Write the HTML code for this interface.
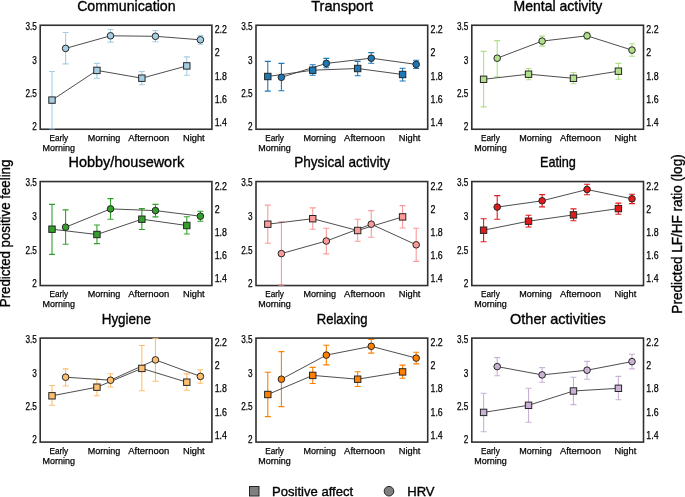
<!DOCTYPE html><html><head><meta charset="utf-8"><style>html,body{margin:0;padding:0;background:#fff;}svg{display:block;will-change:transform;}text{font-family:"Liberation Sans", sans-serif;fill:#000;}.b{stroke:#000;stroke-width:0.25px;}.t{stroke:#000;stroke-width:0.35px;}</style></head><body>
<svg width="685" height="497" viewBox="0 0 685 497">
<rect x="0" y="0" width="685" height="497" fill="#fff"/>
<text x="126.35" y="10.8" font-size="15" text-anchor="middle" textLength="98.4" lengthAdjust="spacingAndGlyphs" class="t">Communication</text>
<clipPath id="c0"><rect x="40.2" y="25.25" width="171.7" height="104.0"/></clipPath>
<g clip-path="url(#c0)">
<path d="M52.00 71.50V129.00M49.00 71.50H55.00M49.00 129.00H55.00" stroke="#a6cee3" stroke-width="1.1" fill="none"/>
<path d="M96.93 63.40V78.20M93.93 63.40H99.93M93.93 78.20H99.93" stroke="#a6cee3" stroke-width="1.1" fill="none"/>
<path d="M141.86 71.50V84.80M138.86 71.50H144.86M138.86 84.80H144.86" stroke="#a6cee3" stroke-width="1.1" fill="none"/>
<path d="M186.79 56.90V75.20M183.79 56.90H189.79M183.79 75.20H189.79" stroke="#a6cee3" stroke-width="1.1" fill="none"/>
<path d="M65.60 32.50V63.90M62.60 32.50H68.60M62.60 63.90H68.60" stroke="#a6cee3" stroke-width="1.1" fill="none"/>
<path d="M110.53 29.50V42.10M107.53 29.50H113.53M107.53 42.10H113.53" stroke="#a6cee3" stroke-width="1.1" fill="none"/>
<path d="M155.46 30.50V41.80M152.46 30.50H158.46M152.46 41.80H158.46" stroke="#a6cee3" stroke-width="1.1" fill="none"/>
<path d="M200.39 35.50V44.30M197.39 35.50H203.39M197.39 44.30H203.39" stroke="#a6cee3" stroke-width="1.1" fill="none"/>
<polyline points="52.00,100.10 96.93,70.40 141.86,78.20 186.79,65.90" stroke="#3a3a3a" stroke-width="0.9" fill="none"/>
<polyline points="65.60,48.40 110.53,35.80 155.46,36.30 200.39,39.80" stroke="#3a3a3a" stroke-width="0.9" fill="none"/>
<rect x="48.80" y="96.90" width="6.4" height="6.4" fill="#a6cee3" stroke="#262626" stroke-width="1"/>
<rect x="93.73" y="67.20" width="6.4" height="6.4" fill="#a6cee3" stroke="#262626" stroke-width="1"/>
<rect x="138.66" y="75.00" width="6.4" height="6.4" fill="#a6cee3" stroke="#262626" stroke-width="1"/>
<rect x="183.59" y="62.70" width="6.4" height="6.4" fill="#a6cee3" stroke="#262626" stroke-width="1"/>
<circle cx="65.60" cy="48.40" r="3.3" fill="#a6cee3" stroke="#262626" stroke-width="1"/>
<circle cx="110.53" cy="35.80" r="3.3" fill="#a6cee3" stroke="#262626" stroke-width="1"/>
<circle cx="155.46" cy="36.30" r="3.3" fill="#a6cee3" stroke="#262626" stroke-width="1"/>
<circle cx="200.39" cy="39.80" r="3.3" fill="#a6cee3" stroke="#262626" stroke-width="1"/>
</g>
<rect x="40.2" y="25.25" width="171.7" height="104.0" fill="none" stroke="#303030" stroke-width="1.6"/>
<path d="M49.00 128.85H55.00" stroke="#a6cee3" stroke-width="1.1" fill="none" opacity="0.85"/>
<text x="36.80" y="30.05" font-size="10.2" text-anchor="end" textLength="11.42" lengthAdjust="spacingAndGlyphs" class="b">3.5</text>
<text x="36.80" y="63.65" font-size="10.2" text-anchor="end" textLength="4.58" lengthAdjust="spacingAndGlyphs" class="b">3</text>
<text x="36.80" y="97.35" font-size="10.2" text-anchor="end" textLength="11.42" lengthAdjust="spacingAndGlyphs" class="b">2.5</text>
<text x="36.80" y="130.35" font-size="10.2" text-anchor="end" textLength="4.58" lengthAdjust="spacingAndGlyphs" class="b">2</text>
<text x="214.70" y="33.25" font-size="10.3" textLength="12.24" lengthAdjust="spacingAndGlyphs" class="b">2.2</text>
<text x="214.70" y="56.25" font-size="10.3" textLength="4.91" lengthAdjust="spacingAndGlyphs" class="b">2</text>
<text x="214.70" y="79.50" font-size="10.3" textLength="12.24" lengthAdjust="spacingAndGlyphs" class="b">1.8</text>
<text x="214.70" y="103.05" font-size="10.3" textLength="12.24" lengthAdjust="spacingAndGlyphs" class="b">1.6</text>
<text x="214.70" y="126.05" font-size="10.3" textLength="12.24" lengthAdjust="spacingAndGlyphs" class="b">1.4</text>
<text x="58.80" y="141.10" font-size="9.8" text-anchor="middle" textLength="18.7" lengthAdjust="spacingAndGlyphs" class="b">Early</text>
<text x="58.80" y="150.80" font-size="9.8" text-anchor="middle" textLength="32.5" lengthAdjust="spacingAndGlyphs" class="b">Morning</text>
<text x="104.00" y="141.10" font-size="9.8" text-anchor="middle" textLength="32.6" lengthAdjust="spacingAndGlyphs" class="b">Morning</text>
<text x="148.80" y="141.10" font-size="9.8" text-anchor="middle" textLength="41" lengthAdjust="spacingAndGlyphs" class="b">Afternoon</text>
<text x="193.80" y="141.10" font-size="9.8" text-anchor="middle" textLength="21.7" lengthAdjust="spacingAndGlyphs" class="b">Night</text>
<text x="342.15" y="10.8" font-size="15" text-anchor="middle" textLength="61.8" lengthAdjust="spacingAndGlyphs" class="t">Transport</text>
<clipPath id="c1"><rect x="256.0" y="25.25" width="171.7" height="104.0"/></clipPath>
<g clip-path="url(#c1)">
<path d="M267.80 61.40V91.10M264.80 61.40H270.80M264.80 91.10H270.80" stroke="#1f78b4" stroke-width="1.1" fill="none"/>
<path d="M312.73 64.70V75.30M309.73 64.70H315.73M309.73 75.30H315.73" stroke="#1f78b4" stroke-width="1.1" fill="none"/>
<path d="M357.66 61.40V75.80M354.66 61.40H360.66M354.66 75.80H360.66" stroke="#1f78b4" stroke-width="1.1" fill="none"/>
<path d="M402.59 68.20V81.00M399.59 68.20H405.59M399.59 81.00H405.59" stroke="#1f78b4" stroke-width="1.1" fill="none"/>
<path d="M281.40 63.40V90.80M278.40 63.40H284.40M278.40 90.80H284.40" stroke="#1f78b4" stroke-width="1.1" fill="none"/>
<path d="M326.33 58.40V67.70M323.33 58.40H329.33M323.33 67.70H329.33" stroke="#1f78b4" stroke-width="1.1" fill="none"/>
<path d="M371.26 52.60V63.20M368.26 52.60H374.26M368.26 63.20H374.26" stroke="#1f78b4" stroke-width="1.1" fill="none"/>
<path d="M416.19 60.20V68.50M413.19 60.20H419.19M413.19 68.50H419.19" stroke="#1f78b4" stroke-width="1.1" fill="none"/>
<polyline points="267.80,76.50 312.73,70.20 357.66,68.50 402.59,74.50" stroke="#3a3a3a" stroke-width="0.9" fill="none"/>
<polyline points="281.40,77.30 326.33,63.40 371.26,58.20 416.19,64.40" stroke="#3a3a3a" stroke-width="0.9" fill="none"/>
<rect x="264.60" y="73.30" width="6.4" height="6.4" fill="#1f78b4" stroke="#262626" stroke-width="1"/>
<rect x="309.53" y="67.00" width="6.4" height="6.4" fill="#1f78b4" stroke="#262626" stroke-width="1"/>
<rect x="354.46" y="65.30" width="6.4" height="6.4" fill="#1f78b4" stroke="#262626" stroke-width="1"/>
<rect x="399.39" y="71.30" width="6.4" height="6.4" fill="#1f78b4" stroke="#262626" stroke-width="1"/>
<circle cx="281.40" cy="77.30" r="3.3" fill="#1f78b4" stroke="#262626" stroke-width="1"/>
<circle cx="326.33" cy="63.40" r="3.3" fill="#1f78b4" stroke="#262626" stroke-width="1"/>
<circle cx="371.26" cy="58.20" r="3.3" fill="#1f78b4" stroke="#262626" stroke-width="1"/>
<circle cx="416.19" cy="64.40" r="3.3" fill="#1f78b4" stroke="#262626" stroke-width="1"/>
</g>
<rect x="256.0" y="25.25" width="171.7" height="104.0" fill="none" stroke="#303030" stroke-width="1.6"/>
<text x="252.60" y="30.05" font-size="10.2" text-anchor="end" textLength="11.42" lengthAdjust="spacingAndGlyphs" class="b">3.5</text>
<text x="252.60" y="63.65" font-size="10.2" text-anchor="end" textLength="4.58" lengthAdjust="spacingAndGlyphs" class="b">3</text>
<text x="252.60" y="97.35" font-size="10.2" text-anchor="end" textLength="11.42" lengthAdjust="spacingAndGlyphs" class="b">2.5</text>
<text x="252.60" y="130.35" font-size="10.2" text-anchor="end" textLength="4.58" lengthAdjust="spacingAndGlyphs" class="b">2</text>
<text x="430.50" y="33.25" font-size="10.3" textLength="12.24" lengthAdjust="spacingAndGlyphs" class="b">2.2</text>
<text x="430.50" y="56.25" font-size="10.3" textLength="4.91" lengthAdjust="spacingAndGlyphs" class="b">2</text>
<text x="430.50" y="79.50" font-size="10.3" textLength="12.24" lengthAdjust="spacingAndGlyphs" class="b">1.8</text>
<text x="430.50" y="103.05" font-size="10.3" textLength="12.24" lengthAdjust="spacingAndGlyphs" class="b">1.6</text>
<text x="430.50" y="126.05" font-size="10.3" textLength="12.24" lengthAdjust="spacingAndGlyphs" class="b">1.4</text>
<text x="274.60" y="141.10" font-size="9.8" text-anchor="middle" textLength="18.7" lengthAdjust="spacingAndGlyphs" class="b">Early</text>
<text x="274.60" y="150.80" font-size="9.8" text-anchor="middle" textLength="32.5" lengthAdjust="spacingAndGlyphs" class="b">Morning</text>
<text x="319.80" y="141.10" font-size="9.8" text-anchor="middle" textLength="32.6" lengthAdjust="spacingAndGlyphs" class="b">Morning</text>
<text x="364.60" y="141.10" font-size="9.8" text-anchor="middle" textLength="41" lengthAdjust="spacingAndGlyphs" class="b">Afternoon</text>
<text x="409.60" y="141.10" font-size="9.8" text-anchor="middle" textLength="21.7" lengthAdjust="spacingAndGlyphs" class="b">Night</text>
<text x="557.95" y="10.8" font-size="15" text-anchor="middle" textLength="88.8" lengthAdjust="spacingAndGlyphs" class="t">Mental activity</text>
<clipPath id="c2"><rect x="471.8" y="25.25" width="171.7" height="104.0"/></clipPath>
<g clip-path="url(#c2)">
<path d="M483.60 51.40V106.90M480.60 51.40H486.60M480.60 106.90H486.60" stroke="#b2df8a" stroke-width="1.1" fill="none"/>
<path d="M528.53 68.50V79.80M525.53 68.50H531.53M525.53 79.80H531.53" stroke="#b2df8a" stroke-width="1.1" fill="none"/>
<path d="M573.46 72.50V83.80M570.46 72.50H576.46M570.46 83.80H576.46" stroke="#b2df8a" stroke-width="1.1" fill="none"/>
<path d="M618.39 63.40V79.30M615.39 63.40H621.39M615.39 79.30H621.39" stroke="#b2df8a" stroke-width="1.1" fill="none"/>
<path d="M497.20 40.60V76.80M494.20 40.60H500.20M494.20 76.80H500.20" stroke="#b2df8a" stroke-width="1.1" fill="none"/>
<path d="M542.13 36.10V46.10M539.13 36.10H545.13M539.13 46.10H545.13" stroke="#b2df8a" stroke-width="1.1" fill="none"/>
<path d="M587.06 32.00V39.30M584.06 32.00H590.06M584.06 39.30H590.06" stroke="#b2df8a" stroke-width="1.1" fill="none"/>
<path d="M631.99 43.80V56.20M628.99 43.80H634.99M628.99 56.20H634.99" stroke="#b2df8a" stroke-width="1.1" fill="none"/>
<polyline points="483.60,79.30 528.53,74.20 573.46,78.30 618.39,71.20" stroke="#3a3a3a" stroke-width="0.9" fill="none"/>
<polyline points="497.20,58.20 542.13,41.10 587.06,35.80 631.99,50.10" stroke="#3a3a3a" stroke-width="0.9" fill="none"/>
<rect x="480.40" y="76.10" width="6.4" height="6.4" fill="#b2df8a" stroke="#262626" stroke-width="1"/>
<rect x="525.33" y="71.00" width="6.4" height="6.4" fill="#b2df8a" stroke="#262626" stroke-width="1"/>
<rect x="570.26" y="75.10" width="6.4" height="6.4" fill="#b2df8a" stroke="#262626" stroke-width="1"/>
<rect x="615.19" y="68.00" width="6.4" height="6.4" fill="#b2df8a" stroke="#262626" stroke-width="1"/>
<circle cx="497.20" cy="58.20" r="3.3" fill="#b2df8a" stroke="#262626" stroke-width="1"/>
<circle cx="542.13" cy="41.10" r="3.3" fill="#b2df8a" stroke="#262626" stroke-width="1"/>
<circle cx="587.06" cy="35.80" r="3.3" fill="#b2df8a" stroke="#262626" stroke-width="1"/>
<circle cx="631.99" cy="50.10" r="3.3" fill="#b2df8a" stroke="#262626" stroke-width="1"/>
</g>
<rect x="471.8" y="25.25" width="171.7" height="104.0" fill="none" stroke="#303030" stroke-width="1.6"/>
<text x="468.40" y="30.05" font-size="10.2" text-anchor="end" textLength="11.42" lengthAdjust="spacingAndGlyphs" class="b">3.5</text>
<text x="468.40" y="63.65" font-size="10.2" text-anchor="end" textLength="4.58" lengthAdjust="spacingAndGlyphs" class="b">3</text>
<text x="468.40" y="97.35" font-size="10.2" text-anchor="end" textLength="11.42" lengthAdjust="spacingAndGlyphs" class="b">2.5</text>
<text x="468.40" y="130.35" font-size="10.2" text-anchor="end" textLength="4.58" lengthAdjust="spacingAndGlyphs" class="b">2</text>
<text x="646.30" y="33.25" font-size="10.3" textLength="12.24" lengthAdjust="spacingAndGlyphs" class="b">2.2</text>
<text x="646.30" y="56.25" font-size="10.3" textLength="4.91" lengthAdjust="spacingAndGlyphs" class="b">2</text>
<text x="646.30" y="79.50" font-size="10.3" textLength="12.24" lengthAdjust="spacingAndGlyphs" class="b">1.8</text>
<text x="646.30" y="103.05" font-size="10.3" textLength="12.24" lengthAdjust="spacingAndGlyphs" class="b">1.6</text>
<text x="646.30" y="126.05" font-size="10.3" textLength="12.24" lengthAdjust="spacingAndGlyphs" class="b">1.4</text>
<text x="490.40" y="141.10" font-size="9.8" text-anchor="middle" textLength="18.7" lengthAdjust="spacingAndGlyphs" class="b">Early</text>
<text x="490.40" y="150.80" font-size="9.8" text-anchor="middle" textLength="32.5" lengthAdjust="spacingAndGlyphs" class="b">Morning</text>
<text x="535.60" y="141.10" font-size="9.8" text-anchor="middle" textLength="32.6" lengthAdjust="spacingAndGlyphs" class="b">Morning</text>
<text x="580.40" y="141.10" font-size="9.8" text-anchor="middle" textLength="41" lengthAdjust="spacingAndGlyphs" class="b">Afternoon</text>
<text x="625.40" y="141.10" font-size="9.8" text-anchor="middle" textLength="21.7" lengthAdjust="spacingAndGlyphs" class="b">Night</text>
<text x="126.35" y="167.0" font-size="15" text-anchor="middle" textLength="115.7" lengthAdjust="spacingAndGlyphs" class="t">Hobby/housework</text>
<clipPath id="c3"><rect x="40.2" y="181.55" width="171.7" height="104.0"/></clipPath>
<g clip-path="url(#c3)">
<path d="M52.00 204.40V254.40M49.00 204.40H55.00M49.00 254.40H55.00" stroke="#33a02c" stroke-width="1.1" fill="none"/>
<path d="M96.93 225.00V243.60M93.93 225.00H99.93M93.93 243.60H99.93" stroke="#33a02c" stroke-width="1.1" fill="none"/>
<path d="M141.86 208.60V229.50M138.86 208.60H144.86M138.86 229.50H144.86" stroke="#33a02c" stroke-width="1.1" fill="none"/>
<path d="M186.79 216.70V234.00M183.79 216.70H189.79M183.79 234.00H189.79" stroke="#33a02c" stroke-width="1.1" fill="none"/>
<path d="M65.60 209.90V244.30M62.60 209.90H68.60M62.60 244.30H68.60" stroke="#33a02c" stroke-width="1.1" fill="none"/>
<path d="M110.53 198.60V219.20M107.53 198.60H113.53M107.53 219.20H113.53" stroke="#33a02c" stroke-width="1.1" fill="none"/>
<path d="M155.46 204.40V216.90M152.46 204.40H158.46M152.46 216.90H158.46" stroke="#33a02c" stroke-width="1.1" fill="none"/>
<path d="M200.39 211.20V221.20M197.39 211.20H203.39M197.39 221.20H203.39" stroke="#33a02c" stroke-width="1.1" fill="none"/>
<polyline points="52.00,229.20 96.93,234.50 141.86,219.20 186.79,225.50" stroke="#3a3a3a" stroke-width="0.9" fill="none"/>
<polyline points="65.60,227.20 110.53,208.90 155.46,210.60 200.39,216.20" stroke="#3a3a3a" stroke-width="0.9" fill="none"/>
<rect x="48.80" y="226.00" width="6.4" height="6.4" fill="#33a02c" stroke="#262626" stroke-width="1"/>
<rect x="93.73" y="231.30" width="6.4" height="6.4" fill="#33a02c" stroke="#262626" stroke-width="1"/>
<rect x="138.66" y="216.00" width="6.4" height="6.4" fill="#33a02c" stroke="#262626" stroke-width="1"/>
<rect x="183.59" y="222.30" width="6.4" height="6.4" fill="#33a02c" stroke="#262626" stroke-width="1"/>
<circle cx="65.60" cy="227.20" r="3.3" fill="#33a02c" stroke="#262626" stroke-width="1"/>
<circle cx="110.53" cy="208.90" r="3.3" fill="#33a02c" stroke="#262626" stroke-width="1"/>
<circle cx="155.46" cy="210.60" r="3.3" fill="#33a02c" stroke="#262626" stroke-width="1"/>
<circle cx="200.39" cy="216.20" r="3.3" fill="#33a02c" stroke="#262626" stroke-width="1"/>
</g>
<rect x="40.2" y="181.55" width="171.7" height="104.0" fill="none" stroke="#303030" stroke-width="1.6"/>
<text x="36.80" y="186.35" font-size="10.2" text-anchor="end" textLength="11.42" lengthAdjust="spacingAndGlyphs" class="b">3.5</text>
<text x="36.80" y="219.95" font-size="10.2" text-anchor="end" textLength="4.58" lengthAdjust="spacingAndGlyphs" class="b">3</text>
<text x="36.80" y="253.65" font-size="10.2" text-anchor="end" textLength="11.42" lengthAdjust="spacingAndGlyphs" class="b">2.5</text>
<text x="36.80" y="286.65" font-size="10.2" text-anchor="end" textLength="4.58" lengthAdjust="spacingAndGlyphs" class="b">2</text>
<text x="214.70" y="189.55" font-size="10.3" textLength="12.24" lengthAdjust="spacingAndGlyphs" class="b">2.2</text>
<text x="214.70" y="212.55" font-size="10.3" textLength="4.91" lengthAdjust="spacingAndGlyphs" class="b">2</text>
<text x="214.70" y="235.80" font-size="10.3" textLength="12.24" lengthAdjust="spacingAndGlyphs" class="b">1.8</text>
<text x="214.70" y="259.35" font-size="10.3" textLength="12.24" lengthAdjust="spacingAndGlyphs" class="b">1.6</text>
<text x="214.70" y="282.35" font-size="10.3" textLength="12.24" lengthAdjust="spacingAndGlyphs" class="b">1.4</text>
<text x="58.80" y="297.40" font-size="9.8" text-anchor="middle" textLength="18.7" lengthAdjust="spacingAndGlyphs" class="b">Early</text>
<text x="58.80" y="307.10" font-size="9.8" text-anchor="middle" textLength="32.5" lengthAdjust="spacingAndGlyphs" class="b">Morning</text>
<text x="104.00" y="297.40" font-size="9.8" text-anchor="middle" textLength="32.6" lengthAdjust="spacingAndGlyphs" class="b">Morning</text>
<text x="148.80" y="297.40" font-size="9.8" text-anchor="middle" textLength="41" lengthAdjust="spacingAndGlyphs" class="b">Afternoon</text>
<text x="193.80" y="297.40" font-size="9.8" text-anchor="middle" textLength="21.7" lengthAdjust="spacingAndGlyphs" class="b">Night</text>
<text x="342.15" y="167.0" font-size="15" text-anchor="middle" textLength="95.9" lengthAdjust="spacingAndGlyphs" class="t">Physical activity</text>
<clipPath id="c4"><rect x="256.0" y="181.55" width="171.7" height="104.0"/></clipPath>
<g clip-path="url(#c4)">
<path d="M267.80 205.10V243.30M264.80 205.10H270.80M264.80 243.30H270.80" stroke="#fb9a99" stroke-width="1.1" fill="none"/>
<path d="M312.73 207.90V229.20M309.73 207.90H315.73M309.73 229.20H315.73" stroke="#fb9a99" stroke-width="1.1" fill="none"/>
<path d="M357.66 219.20V241.30M354.66 219.20H360.66M354.66 241.30H360.66" stroke="#fb9a99" stroke-width="1.1" fill="none"/>
<path d="M402.59 205.60V228.00M399.59 205.60H405.59M399.59 228.00H405.59" stroke="#fb9a99" stroke-width="1.1" fill="none"/>
<path d="M281.40 221.70V285.00M278.40 221.70H284.40M278.40 285.00H284.40" stroke="#fb9a99" stroke-width="1.1" fill="none"/>
<path d="M326.33 228.20V253.90M323.33 228.20H329.33M323.33 253.90H329.33" stroke="#fb9a99" stroke-width="1.1" fill="none"/>
<path d="M371.26 210.60V237.30M368.26 210.60H374.26M368.26 237.30H374.26" stroke="#fb9a99" stroke-width="1.1" fill="none"/>
<path d="M416.19 228.20V261.40M413.19 228.20H419.19M413.19 261.40H419.19" stroke="#fb9a99" stroke-width="1.1" fill="none"/>
<polyline points="267.80,224.20 312.73,218.70 357.66,230.50 402.59,216.90" stroke="#3a3a3a" stroke-width="0.9" fill="none"/>
<polyline points="281.40,253.60 326.33,241.00 371.26,224.20 416.19,244.80" stroke="#3a3a3a" stroke-width="0.9" fill="none"/>
<rect x="264.60" y="221.00" width="6.4" height="6.4" fill="#fb9a99" stroke="#262626" stroke-width="1"/>
<rect x="309.53" y="215.50" width="6.4" height="6.4" fill="#fb9a99" stroke="#262626" stroke-width="1"/>
<rect x="354.46" y="227.30" width="6.4" height="6.4" fill="#fb9a99" stroke="#262626" stroke-width="1"/>
<rect x="399.39" y="213.70" width="6.4" height="6.4" fill="#fb9a99" stroke="#262626" stroke-width="1"/>
<circle cx="281.40" cy="253.60" r="3.3" fill="#fb9a99" stroke="#262626" stroke-width="1"/>
<circle cx="326.33" cy="241.00" r="3.3" fill="#fb9a99" stroke="#262626" stroke-width="1"/>
<circle cx="371.26" cy="224.20" r="3.3" fill="#fb9a99" stroke="#262626" stroke-width="1"/>
<circle cx="416.19" cy="244.80" r="3.3" fill="#fb9a99" stroke="#262626" stroke-width="1"/>
</g>
<rect x="256.0" y="181.55" width="171.7" height="104.0" fill="none" stroke="#303030" stroke-width="1.6"/>
<path d="M278.40 285.15H284.40" stroke="#fb9a99" stroke-width="1.1" fill="none" opacity="0.85"/>
<text x="252.60" y="186.35" font-size="10.2" text-anchor="end" textLength="11.42" lengthAdjust="spacingAndGlyphs" class="b">3.5</text>
<text x="252.60" y="219.95" font-size="10.2" text-anchor="end" textLength="4.58" lengthAdjust="spacingAndGlyphs" class="b">3</text>
<text x="252.60" y="253.65" font-size="10.2" text-anchor="end" textLength="11.42" lengthAdjust="spacingAndGlyphs" class="b">2.5</text>
<text x="252.60" y="286.65" font-size="10.2" text-anchor="end" textLength="4.58" lengthAdjust="spacingAndGlyphs" class="b">2</text>
<text x="430.50" y="189.55" font-size="10.3" textLength="12.24" lengthAdjust="spacingAndGlyphs" class="b">2.2</text>
<text x="430.50" y="212.55" font-size="10.3" textLength="4.91" lengthAdjust="spacingAndGlyphs" class="b">2</text>
<text x="430.50" y="235.80" font-size="10.3" textLength="12.24" lengthAdjust="spacingAndGlyphs" class="b">1.8</text>
<text x="430.50" y="259.35" font-size="10.3" textLength="12.24" lengthAdjust="spacingAndGlyphs" class="b">1.6</text>
<text x="430.50" y="282.35" font-size="10.3" textLength="12.24" lengthAdjust="spacingAndGlyphs" class="b">1.4</text>
<text x="274.60" y="297.40" font-size="9.8" text-anchor="middle" textLength="18.7" lengthAdjust="spacingAndGlyphs" class="b">Early</text>
<text x="274.60" y="307.10" font-size="9.8" text-anchor="middle" textLength="32.5" lengthAdjust="spacingAndGlyphs" class="b">Morning</text>
<text x="319.80" y="297.40" font-size="9.8" text-anchor="middle" textLength="32.6" lengthAdjust="spacingAndGlyphs" class="b">Morning</text>
<text x="364.60" y="297.40" font-size="9.8" text-anchor="middle" textLength="41" lengthAdjust="spacingAndGlyphs" class="b">Afternoon</text>
<text x="409.60" y="297.40" font-size="9.8" text-anchor="middle" textLength="21.7" lengthAdjust="spacingAndGlyphs" class="b">Night</text>
<text x="557.95" y="167.0" font-size="15" text-anchor="middle" textLength="36.0" lengthAdjust="spacingAndGlyphs" class="t">Eating</text>
<clipPath id="c5"><rect x="471.8" y="181.55" width="171.7" height="104.0"/></clipPath>
<g clip-path="url(#c5)">
<path d="M483.60 218.70V241.80M480.60 218.70H486.60M480.60 241.80H486.60" stroke="#e31a1c" stroke-width="1.1" fill="none"/>
<path d="M528.53 215.20V227.00M525.53 215.20H531.53M525.53 227.00H531.53" stroke="#e31a1c" stroke-width="1.1" fill="none"/>
<path d="M573.46 208.90V220.70M570.46 208.90H576.46M570.46 220.70H576.46" stroke="#e31a1c" stroke-width="1.1" fill="none"/>
<path d="M618.39 203.10V214.20M615.39 203.10H621.39M615.39 214.20H621.39" stroke="#e31a1c" stroke-width="1.1" fill="none"/>
<path d="M497.20 195.60V219.20M494.20 195.60H500.20M494.20 219.20H500.20" stroke="#e31a1c" stroke-width="1.1" fill="none"/>
<path d="M542.13 194.60V206.90M539.13 194.60H545.13M539.13 206.90H545.13" stroke="#e31a1c" stroke-width="1.1" fill="none"/>
<path d="M587.06 184.30V194.80M584.06 184.30H590.06M584.06 194.80H590.06" stroke="#e31a1c" stroke-width="1.1" fill="none"/>
<path d="M631.99 194.30V203.60M628.99 194.30H634.99M628.99 203.60H634.99" stroke="#e31a1c" stroke-width="1.1" fill="none"/>
<polyline points="483.60,230.20 528.53,221.20 573.46,214.90 618.39,208.60" stroke="#3a3a3a" stroke-width="0.9" fill="none"/>
<polyline points="497.20,207.10 542.13,200.80 587.06,189.50 631.99,198.80" stroke="#3a3a3a" stroke-width="0.9" fill="none"/>
<rect x="480.40" y="227.00" width="6.4" height="6.4" fill="#e31a1c" stroke="#262626" stroke-width="1"/>
<rect x="525.33" y="218.00" width="6.4" height="6.4" fill="#e31a1c" stroke="#262626" stroke-width="1"/>
<rect x="570.26" y="211.70" width="6.4" height="6.4" fill="#e31a1c" stroke="#262626" stroke-width="1"/>
<rect x="615.19" y="205.40" width="6.4" height="6.4" fill="#e31a1c" stroke="#262626" stroke-width="1"/>
<circle cx="497.20" cy="207.10" r="3.3" fill="#e31a1c" stroke="#262626" stroke-width="1"/>
<circle cx="542.13" cy="200.80" r="3.3" fill="#e31a1c" stroke="#262626" stroke-width="1"/>
<circle cx="587.06" cy="189.50" r="3.3" fill="#e31a1c" stroke="#262626" stroke-width="1"/>
<circle cx="631.99" cy="198.80" r="3.3" fill="#e31a1c" stroke="#262626" stroke-width="1"/>
</g>
<rect x="471.8" y="181.55" width="171.7" height="104.0" fill="none" stroke="#303030" stroke-width="1.6"/>
<text x="468.40" y="186.35" font-size="10.2" text-anchor="end" textLength="11.42" lengthAdjust="spacingAndGlyphs" class="b">3.5</text>
<text x="468.40" y="219.95" font-size="10.2" text-anchor="end" textLength="4.58" lengthAdjust="spacingAndGlyphs" class="b">3</text>
<text x="468.40" y="253.65" font-size="10.2" text-anchor="end" textLength="11.42" lengthAdjust="spacingAndGlyphs" class="b">2.5</text>
<text x="468.40" y="286.65" font-size="10.2" text-anchor="end" textLength="4.58" lengthAdjust="spacingAndGlyphs" class="b">2</text>
<text x="646.30" y="189.55" font-size="10.3" textLength="12.24" lengthAdjust="spacingAndGlyphs" class="b">2.2</text>
<text x="646.30" y="212.55" font-size="10.3" textLength="4.91" lengthAdjust="spacingAndGlyphs" class="b">2</text>
<text x="646.30" y="235.80" font-size="10.3" textLength="12.24" lengthAdjust="spacingAndGlyphs" class="b">1.8</text>
<text x="646.30" y="259.35" font-size="10.3" textLength="12.24" lengthAdjust="spacingAndGlyphs" class="b">1.6</text>
<text x="646.30" y="282.35" font-size="10.3" textLength="12.24" lengthAdjust="spacingAndGlyphs" class="b">1.4</text>
<text x="490.40" y="297.40" font-size="9.8" text-anchor="middle" textLength="18.7" lengthAdjust="spacingAndGlyphs" class="b">Early</text>
<text x="490.40" y="307.10" font-size="9.8" text-anchor="middle" textLength="32.5" lengthAdjust="spacingAndGlyphs" class="b">Morning</text>
<text x="535.60" y="297.40" font-size="9.8" text-anchor="middle" textLength="32.6" lengthAdjust="spacingAndGlyphs" class="b">Morning</text>
<text x="580.40" y="297.40" font-size="9.8" text-anchor="middle" textLength="41" lengthAdjust="spacingAndGlyphs" class="b">Afternoon</text>
<text x="625.40" y="297.40" font-size="9.8" text-anchor="middle" textLength="21.7" lengthAdjust="spacingAndGlyphs" class="b">Night</text>
<text x="126.35" y="323.5" font-size="15" text-anchor="middle" textLength="49.3" lengthAdjust="spacingAndGlyphs" class="t">Hygiene</text>
<clipPath id="c6"><rect x="40.2" y="338.1" width="171.7" height="104.0"/></clipPath>
<g clip-path="url(#c6)">
<path d="M52.00 385.50V405.30M49.00 385.50H55.00M49.00 405.30H55.00" stroke="#fdbf6f" stroke-width="1.1" fill="none"/>
<path d="M96.93 379.00V395.80M93.93 379.00H99.93M93.93 395.80H99.93" stroke="#fdbf6f" stroke-width="1.1" fill="none"/>
<path d="M141.86 345.50V390.80M138.86 345.50H144.86M138.86 390.80H144.86" stroke="#fdbf6f" stroke-width="1.1" fill="none"/>
<path d="M186.79 373.90V390.30M183.79 373.90H189.79M183.79 390.30H189.79" stroke="#fdbf6f" stroke-width="1.1" fill="none"/>
<path d="M65.60 368.90V386.00M62.60 368.90H68.60M62.60 386.00H68.60" stroke="#fdbf6f" stroke-width="1.1" fill="none"/>
<path d="M110.53 373.70V387.00M107.53 373.70H113.53M107.53 387.00H113.53" stroke="#fdbf6f" stroke-width="1.1" fill="none"/>
<path d="M155.46 338.50V381.20M152.46 338.50H158.46M152.46 381.20H158.46" stroke="#fdbf6f" stroke-width="1.1" fill="none"/>
<path d="M200.39 369.70V383.20M197.39 369.70H203.39M197.39 383.20H203.39" stroke="#fdbf6f" stroke-width="1.1" fill="none"/>
<polyline points="52.00,395.80 96.93,387.20 141.86,368.40 186.79,382.20" stroke="#3a3a3a" stroke-width="0.9" fill="none"/>
<polyline points="65.60,377.20 110.53,380.20 155.46,359.90 200.39,376.40" stroke="#3a3a3a" stroke-width="0.9" fill="none"/>
<rect x="48.80" y="392.60" width="6.4" height="6.4" fill="#fdbf6f" stroke="#262626" stroke-width="1"/>
<rect x="93.73" y="384.00" width="6.4" height="6.4" fill="#fdbf6f" stroke="#262626" stroke-width="1"/>
<rect x="138.66" y="365.20" width="6.4" height="6.4" fill="#fdbf6f" stroke="#262626" stroke-width="1"/>
<rect x="183.59" y="379.00" width="6.4" height="6.4" fill="#fdbf6f" stroke="#262626" stroke-width="1"/>
<circle cx="65.60" cy="377.20" r="3.3" fill="#fdbf6f" stroke="#262626" stroke-width="1"/>
<circle cx="110.53" cy="380.20" r="3.3" fill="#fdbf6f" stroke="#262626" stroke-width="1"/>
<circle cx="155.46" cy="359.90" r="3.3" fill="#fdbf6f" stroke="#262626" stroke-width="1"/>
<circle cx="200.39" cy="376.40" r="3.3" fill="#fdbf6f" stroke="#262626" stroke-width="1"/>
</g>
<rect x="40.2" y="338.1" width="171.7" height="104.0" fill="none" stroke="#303030" stroke-width="1.6"/>
<path d="M152.46 338.50H158.46" stroke="#fdbf6f" stroke-width="1.1" fill="none" opacity="0.85"/>
<text x="36.80" y="342.90" font-size="10.2" text-anchor="end" textLength="11.42" lengthAdjust="spacingAndGlyphs" class="b">3.5</text>
<text x="36.80" y="376.50" font-size="10.2" text-anchor="end" textLength="4.58" lengthAdjust="spacingAndGlyphs" class="b">3</text>
<text x="36.80" y="410.20" font-size="10.2" text-anchor="end" textLength="11.42" lengthAdjust="spacingAndGlyphs" class="b">2.5</text>
<text x="36.80" y="443.20" font-size="10.2" text-anchor="end" textLength="4.58" lengthAdjust="spacingAndGlyphs" class="b">2</text>
<text x="214.70" y="346.10" font-size="10.3" textLength="12.24" lengthAdjust="spacingAndGlyphs" class="b">2.2</text>
<text x="214.70" y="369.10" font-size="10.3" textLength="4.91" lengthAdjust="spacingAndGlyphs" class="b">2</text>
<text x="214.70" y="392.35" font-size="10.3" textLength="12.24" lengthAdjust="spacingAndGlyphs" class="b">1.8</text>
<text x="214.70" y="415.90" font-size="10.3" textLength="12.24" lengthAdjust="spacingAndGlyphs" class="b">1.6</text>
<text x="214.70" y="438.90" font-size="10.3" textLength="12.24" lengthAdjust="spacingAndGlyphs" class="b">1.4</text>
<text x="58.80" y="453.95" font-size="9.8" text-anchor="middle" textLength="18.7" lengthAdjust="spacingAndGlyphs" class="b">Early</text>
<text x="58.80" y="463.65" font-size="9.8" text-anchor="middle" textLength="32.5" lengthAdjust="spacingAndGlyphs" class="b">Morning</text>
<text x="104.00" y="453.95" font-size="9.8" text-anchor="middle" textLength="32.6" lengthAdjust="spacingAndGlyphs" class="b">Morning</text>
<text x="148.80" y="453.95" font-size="9.8" text-anchor="middle" textLength="41" lengthAdjust="spacingAndGlyphs" class="b">Afternoon</text>
<text x="193.80" y="453.95" font-size="9.8" text-anchor="middle" textLength="21.7" lengthAdjust="spacingAndGlyphs" class="b">Night</text>
<text x="342.15" y="323.5" font-size="15" text-anchor="middle" textLength="50.9" lengthAdjust="spacingAndGlyphs" class="t">Relaxing</text>
<clipPath id="c7"><rect x="256.0" y="338.1" width="171.7" height="104.0"/></clipPath>
<g clip-path="url(#c7)">
<path d="M267.80 372.20V416.60M264.80 372.20H270.80M264.80 416.60H270.80" stroke="#ff7f00" stroke-width="1.1" fill="none"/>
<path d="M312.73 367.40V383.50M309.73 367.40H315.73M309.73 383.50H315.73" stroke="#ff7f00" stroke-width="1.1" fill="none"/>
<path d="M357.66 371.70V386.50M354.66 371.70H360.66M354.66 386.50H360.66" stroke="#ff7f00" stroke-width="1.1" fill="none"/>
<path d="M402.59 365.10V378.20M399.59 365.10H405.59M399.59 378.20H405.59" stroke="#ff7f00" stroke-width="1.1" fill="none"/>
<path d="M281.40 351.60V406.60M278.40 351.60H284.40M278.40 406.60H284.40" stroke="#ff7f00" stroke-width="1.1" fill="none"/>
<path d="M326.33 345.30V364.90M323.33 345.30H329.33M323.33 364.90H329.33" stroke="#ff7f00" stroke-width="1.1" fill="none"/>
<path d="M371.26 339.50V353.10M368.26 339.50H374.26M368.26 353.10H374.26" stroke="#ff7f00" stroke-width="1.1" fill="none"/>
<path d="M416.19 352.30V363.90M413.19 352.30H419.19M413.19 363.90H419.19" stroke="#ff7f00" stroke-width="1.1" fill="none"/>
<polyline points="267.80,394.50 312.73,375.40 357.66,379.20 402.59,371.90" stroke="#3a3a3a" stroke-width="0.9" fill="none"/>
<polyline points="281.40,379.20 326.33,355.10 371.26,346.30 416.19,358.10" stroke="#3a3a3a" stroke-width="0.9" fill="none"/>
<rect x="264.60" y="391.30" width="6.4" height="6.4" fill="#ff7f00" stroke="#262626" stroke-width="1"/>
<rect x="309.53" y="372.20" width="6.4" height="6.4" fill="#ff7f00" stroke="#262626" stroke-width="1"/>
<rect x="354.46" y="376.00" width="6.4" height="6.4" fill="#ff7f00" stroke="#262626" stroke-width="1"/>
<rect x="399.39" y="368.70" width="6.4" height="6.4" fill="#ff7f00" stroke="#262626" stroke-width="1"/>
<circle cx="281.40" cy="379.20" r="3.3" fill="#ff7f00" stroke="#262626" stroke-width="1"/>
<circle cx="326.33" cy="355.10" r="3.3" fill="#ff7f00" stroke="#262626" stroke-width="1"/>
<circle cx="371.26" cy="346.30" r="3.3" fill="#ff7f00" stroke="#262626" stroke-width="1"/>
<circle cx="416.19" cy="358.10" r="3.3" fill="#ff7f00" stroke="#262626" stroke-width="1"/>
</g>
<rect x="256.0" y="338.1" width="171.7" height="104.0" fill="none" stroke="#303030" stroke-width="1.6"/>
<text x="252.60" y="342.90" font-size="10.2" text-anchor="end" textLength="11.42" lengthAdjust="spacingAndGlyphs" class="b">3.5</text>
<text x="252.60" y="376.50" font-size="10.2" text-anchor="end" textLength="4.58" lengthAdjust="spacingAndGlyphs" class="b">3</text>
<text x="252.60" y="410.20" font-size="10.2" text-anchor="end" textLength="11.42" lengthAdjust="spacingAndGlyphs" class="b">2.5</text>
<text x="252.60" y="443.20" font-size="10.2" text-anchor="end" textLength="4.58" lengthAdjust="spacingAndGlyphs" class="b">2</text>
<text x="430.50" y="346.10" font-size="10.3" textLength="12.24" lengthAdjust="spacingAndGlyphs" class="b">2.2</text>
<text x="430.50" y="369.10" font-size="10.3" textLength="4.91" lengthAdjust="spacingAndGlyphs" class="b">2</text>
<text x="430.50" y="392.35" font-size="10.3" textLength="12.24" lengthAdjust="spacingAndGlyphs" class="b">1.8</text>
<text x="430.50" y="415.90" font-size="10.3" textLength="12.24" lengthAdjust="spacingAndGlyphs" class="b">1.6</text>
<text x="430.50" y="438.90" font-size="10.3" textLength="12.24" lengthAdjust="spacingAndGlyphs" class="b">1.4</text>
<text x="274.60" y="453.95" font-size="9.8" text-anchor="middle" textLength="18.7" lengthAdjust="spacingAndGlyphs" class="b">Early</text>
<text x="274.60" y="463.65" font-size="9.8" text-anchor="middle" textLength="32.5" lengthAdjust="spacingAndGlyphs" class="b">Morning</text>
<text x="319.80" y="453.95" font-size="9.8" text-anchor="middle" textLength="32.6" lengthAdjust="spacingAndGlyphs" class="b">Morning</text>
<text x="364.60" y="453.95" font-size="9.8" text-anchor="middle" textLength="41" lengthAdjust="spacingAndGlyphs" class="b">Afternoon</text>
<text x="409.60" y="453.95" font-size="9.8" text-anchor="middle" textLength="21.7" lengthAdjust="spacingAndGlyphs" class="b">Night</text>
<text x="557.95" y="323.5" font-size="15" text-anchor="middle" textLength="95.8" lengthAdjust="spacingAndGlyphs" class="t">Other activities</text>
<clipPath id="c8"><rect x="471.8" y="338.1" width="171.7" height="104.0"/></clipPath>
<g clip-path="url(#c8)">
<path d="M483.60 393.30V431.70M480.60 393.30H486.60M480.60 431.70H486.60" stroke="#cab2d6" stroke-width="1.1" fill="none"/>
<path d="M528.53 388.30V422.20M525.53 388.30H531.53M525.53 422.20H531.53" stroke="#cab2d6" stroke-width="1.1" fill="none"/>
<path d="M573.46 377.20V404.60M570.46 377.20H576.46M570.46 404.60H576.46" stroke="#cab2d6" stroke-width="1.1" fill="none"/>
<path d="M618.39 376.40V399.80M615.39 376.40H621.39M615.39 399.80H621.39" stroke="#cab2d6" stroke-width="1.1" fill="none"/>
<path d="M497.20 357.60V375.70M494.20 357.60H500.20M494.20 375.70H500.20" stroke="#cab2d6" stroke-width="1.1" fill="none"/>
<path d="M542.13 367.60V382.20M539.13 367.60H545.13M539.13 382.20H545.13" stroke="#cab2d6" stroke-width="1.1" fill="none"/>
<path d="M587.06 361.40V379.20M584.06 361.40H590.06M584.06 379.20H590.06" stroke="#cab2d6" stroke-width="1.1" fill="none"/>
<path d="M631.99 354.30V368.90M628.99 354.30H634.99M628.99 368.90H634.99" stroke="#cab2d6" stroke-width="1.1" fill="none"/>
<polyline points="483.60,412.40 528.53,405.30 573.46,391.00 618.39,388.30" stroke="#3a3a3a" stroke-width="0.9" fill="none"/>
<polyline points="497.20,366.60 542.13,374.90 587.06,370.20 631.99,361.60" stroke="#3a3a3a" stroke-width="0.9" fill="none"/>
<rect x="480.40" y="409.20" width="6.4" height="6.4" fill="#cab2d6" stroke="#262626" stroke-width="1"/>
<rect x="525.33" y="402.10" width="6.4" height="6.4" fill="#cab2d6" stroke="#262626" stroke-width="1"/>
<rect x="570.26" y="387.80" width="6.4" height="6.4" fill="#cab2d6" stroke="#262626" stroke-width="1"/>
<rect x="615.19" y="385.10" width="6.4" height="6.4" fill="#cab2d6" stroke="#262626" stroke-width="1"/>
<circle cx="497.20" cy="366.60" r="3.3" fill="#cab2d6" stroke="#262626" stroke-width="1"/>
<circle cx="542.13" cy="374.90" r="3.3" fill="#cab2d6" stroke="#262626" stroke-width="1"/>
<circle cx="587.06" cy="370.20" r="3.3" fill="#cab2d6" stroke="#262626" stroke-width="1"/>
<circle cx="631.99" cy="361.60" r="3.3" fill="#cab2d6" stroke="#262626" stroke-width="1"/>
</g>
<rect x="471.8" y="338.1" width="171.7" height="104.0" fill="none" stroke="#303030" stroke-width="1.6"/>
<text x="468.40" y="342.90" font-size="10.2" text-anchor="end" textLength="11.42" lengthAdjust="spacingAndGlyphs" class="b">3.5</text>
<text x="468.40" y="376.50" font-size="10.2" text-anchor="end" textLength="4.58" lengthAdjust="spacingAndGlyphs" class="b">3</text>
<text x="468.40" y="410.20" font-size="10.2" text-anchor="end" textLength="11.42" lengthAdjust="spacingAndGlyphs" class="b">2.5</text>
<text x="468.40" y="443.20" font-size="10.2" text-anchor="end" textLength="4.58" lengthAdjust="spacingAndGlyphs" class="b">2</text>
<text x="646.30" y="346.10" font-size="10.3" textLength="12.24" lengthAdjust="spacingAndGlyphs" class="b">2.2</text>
<text x="646.30" y="369.10" font-size="10.3" textLength="4.91" lengthAdjust="spacingAndGlyphs" class="b">2</text>
<text x="646.30" y="392.35" font-size="10.3" textLength="12.24" lengthAdjust="spacingAndGlyphs" class="b">1.8</text>
<text x="646.30" y="415.90" font-size="10.3" textLength="12.24" lengthAdjust="spacingAndGlyphs" class="b">1.6</text>
<text x="646.30" y="438.90" font-size="10.3" textLength="12.24" lengthAdjust="spacingAndGlyphs" class="b">1.4</text>
<text x="490.40" y="453.95" font-size="9.8" text-anchor="middle" textLength="18.7" lengthAdjust="spacingAndGlyphs" class="b">Early</text>
<text x="490.40" y="463.65" font-size="9.8" text-anchor="middle" textLength="32.5" lengthAdjust="spacingAndGlyphs" class="b">Morning</text>
<text x="535.60" y="453.95" font-size="9.8" text-anchor="middle" textLength="32.6" lengthAdjust="spacingAndGlyphs" class="b">Morning</text>
<text x="580.40" y="453.95" font-size="9.8" text-anchor="middle" textLength="41" lengthAdjust="spacingAndGlyphs" class="b">Afternoon</text>
<text x="625.40" y="453.95" font-size="9.8" text-anchor="middle" textLength="21.7" lengthAdjust="spacingAndGlyphs" class="b">Night</text>
<text transform="translate(9.8 233.4) rotate(-90)" font-size="14.5" text-anchor="middle" textLength="147.5" lengthAdjust="spacingAndGlyphs" class="t">Predicted positive feeling</text>
<text transform="translate(681.5 234) rotate(-90)" font-size="14.5" text-anchor="middle" textLength="159.3" lengthAdjust="spacingAndGlyphs" class="t">Predicted LF/HF ratio (log)</text>
<rect x="249.5" y="486.5" width="9.5" height="9.5" fill="#7f7f7f" stroke="#262626" stroke-width="1"/>
<text x="272.1" y="496.3" font-size="13" textLength="81" lengthAdjust="spacingAndGlyphs" class="t">Positive affect</text>
<circle cx="389" cy="491.2" r="4.8" fill="#7f7f7f" stroke="#262626" stroke-width="1"/>
<text x="407.2" y="496.3" font-size="13" textLength="27.4" lengthAdjust="spacingAndGlyphs" class="t">HRV</text>
</svg></body></html>
